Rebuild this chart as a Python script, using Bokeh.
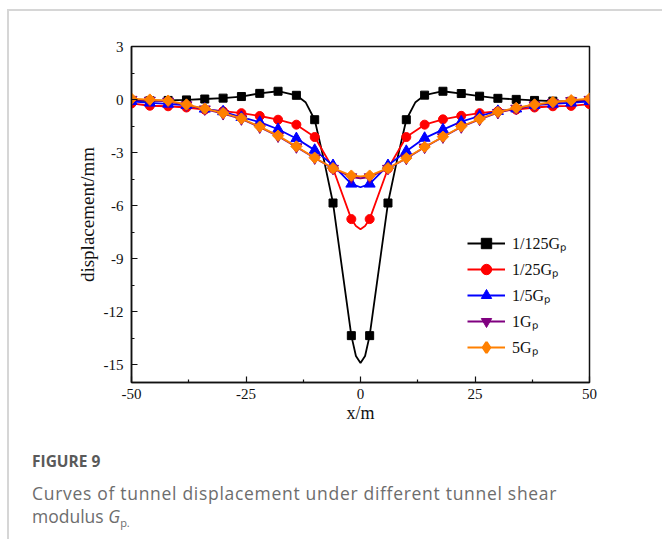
from bokeh.plotting import figure
from bokeh.models import Range1d, FixedTicker, Legend, LegendItem, Div
from bokeh.layouts import column
from bokeh.embed import file_html
from bokeh.resources import INLINE
import math

# ---------------- data ----------------
x_marks = [-50, -46, -42, -38, -34, -30, -26, -22, -18, -14, -10, -6, -2,
           2, 6, 10, 14, 18, 22, 26, 30, 34, 38, 42, 46, 50]

black_marks = [-0.08, -0.07, -0.05, -0.02, 0.03, 0.08, 0.17, 0.35, 0.47, 0.24, -1.14, -5.85, -13.35,
               -13.35, -5.85, -1.14, 0.25, 0.47, 0.34, 0.19, 0.07, 0.01, -0.05, -0.09, -0.10, -0.10]
red_marks = [-0.22, -0.35, -0.38, -0.45, -0.57, -0.66, -0.77, -0.93, -1.14, -1.42, -2.12, -3.90, -6.76,
             -6.76, -3.90, -2.12, -1.42, -1.12, -0.92, -0.77, -0.66, -0.57, -0.45, -0.38, -0.36, -0.26]
blue_marks = [-0.10, -0.19, -0.25, -0.33, -0.53, -0.68, -1.00, -1.28, -1.68, -2.20, -2.86, -3.72, -4.77,
              -4.77, -3.72, -2.92, -2.18, -1.70, -1.25, -0.93, -0.66, -0.52, -0.32, -0.25, -0.19, -0.10]
purple_marks = [0.00, -0.05, -0.10, -0.31, -0.54, -0.80, -1.10, -1.56, -2.07, -2.68, -3.31, -3.90, -4.38,
                -4.38, -3.90, -3.33, -2.70, -2.12, -1.55, -1.12, -0.74, -0.50, -0.31, -0.17, -0.07, 0.00]
orange_marks = [0.05, 0.00, -0.06, -0.28, -0.51, -0.76, -1.07, -1.53, -2.04, -2.65, -3.29, -3.88, -4.30,
                -4.30, -3.88, -3.31, -2.68, -2.10, -1.52, -1.10, -0.70, -0.47, -0.28, -0.14, -0.04, 0.05]

# extra points of the smooth curves between markers
x_black_extra = [-12, -8, -1, 0, 1, 8, 12]
black_extra = [-0.15, -3.40, -14.50, -14.90, -14.50, -3.40, -0.15]
x_red_extra = [-1, 0, 1]
red_extra = [-7.15, -7.33, -7.15]
x_blue_extra = [0]
blue_extra = [-4.96]
x_purple_extra = [0]
purple_extra = [-4.45]
x_orange_extra = [0]
orange_extra = [-4.35]

series_labels = ["1/125G\u209a", "1/25G\u209a", "1/5G\u209a", "1G\u209a", "5G\u209a"]
series_colors = ["#000000", "#ff0000", "#0000ff", "#800080", "#ff8000"]

x_ticks = [-50, -25, 0, 25, 50]
x_tick_labels = ["-50", "-25", "0", "25", "50"]
x_minor = [-37.5, -12.5, 12.5, 37.5]
y_ticks = [3, 0, -3, -6, -9, -12, -15]
y_tick_labels = ["3", "0", "-3", "-6", "-9", "-12", "-15"]
y_minor = [1.5, -1.5, -4.5, -7.5, -10.5, -13.5]

caption_title = "FIGURE 9"
caption_line1 = "Curves of tunnel displacement under different tunnel shear"
caption_line2 = "modulus"

# ---------------- geometry (page pixels) ----------------
PAGE_W, PAGE_H = 662, 539
OX, OY = 9, 11                # content origin inside the grey page border
FL, FR, FT, FB = 131, 589, 46, 382
FIG_BOTTOM = 430
FW = PAGE_W - OX
FH = FIG_BOTTOM - OY

p = figure(width=FW, height=FH, output_backend="svg", toolbar_location=None,
           x_range=Range1d(-50, 50), y_range=Range1d(-16, 3),
           min_border_left=FL - OX, min_border_right=PAGE_W - FR,
           min_border_top=FT - OY, min_border_bottom=FIG_BOTTOM - FB)
p.xgrid.visible = False
p.ygrid.visible = False
p.outline_line_color = "#111111"
p.outline_line_width = 1.5
p.background_fill_color = "white"
p.border_fill_color = "white"

SERIF = "Liberation Serif"
for ax in (p.xaxis[0], p.yaxis[0]):
    ax.axis_line_color = "#111111"
    ax.axis_line_width = 1.5
    ax.major_tick_line_color = "#111111"
    ax.minor_tick_line_color = "#111111"
    ax.major_tick_line_width = 1.2
    ax.minor_tick_line_width = 1.2
    ax.major_tick_in = 6
    ax.major_tick_out = 0
    ax.minor_tick_in = 3
    ax.minor_tick_out = 0
    ax.major_label_text_font = SERIF
    ax.major_label_text_font_size = "15px"
    ax.major_label_text_color = "#111111"
    ax.axis_label_text_font = SERIF
    ax.axis_label_text_font_style = "normal"
    ax.axis_label_text_color = "#111111"

p.xaxis.ticker = FixedTicker(ticks=x_ticks, minor_ticks=x_minor)
p.xaxis.major_label_overrides = dict(zip(x_ticks, x_tick_labels))
p.yaxis.ticker = FixedTicker(ticks=y_ticks, minor_ticks=y_minor)
p.yaxis.major_label_overrides = dict(zip(y_ticks, y_tick_labels))
p.xaxis.major_label_standoff = 6
p.yaxis.major_label_standoff = 8
p.xaxis.axis_label = "x/m"
p.xaxis.axis_label_text_font_size = "18px"
p.xaxis.axis_label_standoff = 1
p.yaxis.axis_label = "displacement/mm"
p.yaxis.axis_label_text_font_size = "19px"
p.yaxis.axis_label_standoff = 3


def merge(xm, ym, xe, ye):
    pts = sorted(list(zip(xm, ym)) + list(zip(xe, ye)))
    return [a for a, _ in pts], [b for _, b in pts]


line_sets = [
    (black_marks, x_black_extra, black_extra, "square", 8, 0.0),
    (red_marks, x_red_extra, red_extra, "circle", 9, 0.0),
    (blue_marks, x_blue_extra, blue_extra, "triangle", 11, 0.0),
    (purple_marks, x_purple_extra, purple_extra, "inverted_triangle", 11, 0.0),
    (orange_marks, x_orange_extra, orange_extra, "square", 8, math.pi / 4),
]

items = []
for (ym, xe, ye, marker, size, ang), lab, col in zip(line_sets, series_labels, series_colors):
    lx, ly = merge(x_marks, ym, xe, ye)
    lr = p.line(lx, ly, line_color=col, line_width=1.8)
    sr = p.scatter(x_marks, ym, marker=marker, size=size, angle=ang,
                   fill_color=col, line_color=col, line_width=1)
    rends = [lr, sr]
    if ang != 0.0:
        # legend markers are never rotated: a hidden diamond glyph stands in for the legend
        dr = p.scatter(x_marks, ym, marker="diamond", size=size,
                       fill_color=col, line_color=col, line_width=2.5, visible=False)
        rends = [lr, dr]
    items.append(LegendItem(label=lab, renderers=rends))

legend = Legend(items=items, location=(336, 22))
legend.border_line_alpha = 0
legend.background_fill_alpha = 0
legend.padding = 0
legend.margin = 0
legend.spacing = 0
legend.glyph_width = 38
legend.glyph_height = 26
legend.label_height = 26
legend.label_standoff = 7
legend.label_text_font = SERIF
legend.label_text_font_size = "16px"
legend.label_text_color = "#111111"
p.add_layout(legend, "center")

# ---------------- caption ----------------
cap_html = (
    '<div style="font-family:\'Open Sans\',sans-serif;color:#6d6d6d;margin:0;'
    'padding:0 0 0 %dpx;">'
    '<div style="font-weight:700;font-size:15.5px;line-height:23px;color:#5a5a5a;'
    'margin:20px 0 9px 0;">%s</div>'
    '<div style="font-size:17.5px;line-height:23px;letter-spacing:0.7px;">%s<br>'
    '<span style="letter-spacing:0;">%s <i>G</i></span>'
    '<span style="font-size:11px;position:relative;top:4px;letter-spacing:0;">p.</span></div>'
    '</div>'
) % (32 - OX, caption_title, caption_line1, caption_line2)

cap = Div(text=cap_html, width=FW, height=PAGE_H - FIG_BOTTOM,
          styles={"margin": "0", "padding": "0", "background": "white"})

page = column(p, cap, margin=(OY - 2, 0, 0, OX - 2),
              styles={"border-left": "2px solid #d6d6d6", "border-top": "2px solid #d6d6d6",
                      "background": "white"})

open("out.html", "w").write(file_html(page, INLINE))
